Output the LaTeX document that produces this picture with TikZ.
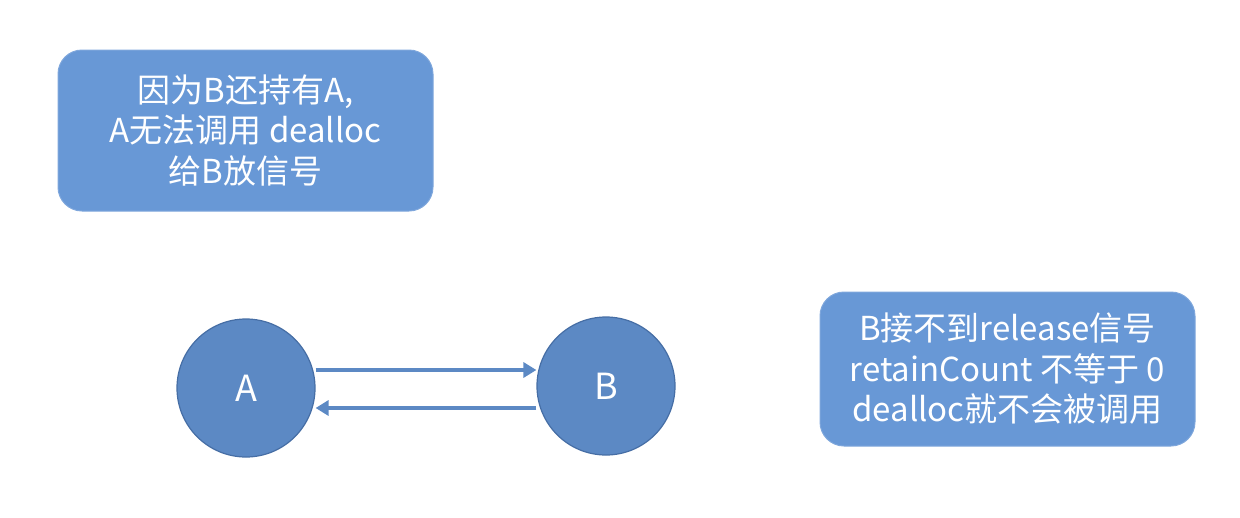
\documentclass[tikz,border=0pt]{standalone}
\usepackage{fontspec}
\setmainfont{Noto Sans CJK SC}
\usetikzlibrary{arrows.meta}
\definecolor{boxblue}{RGB}{104,152,214}
\definecolor{circblue}{RGB}{92,137,196}
\definecolor{circedge}{RGB}{70,110,165}
\definecolor{arrowblue}{RGB}{92,137,196}
\tikzset{
  infobox/.style={fill=boxblue, draw=boxblue!85!white, line width=1pt, rounded corners=24pt,
    text=white, align=center, inner sep=0pt, font=\fontsize{33}{40.5}\selectfont},
  objcirc/.style={circle, fill=circblue, draw=circedge, line width=1.2pt, minimum size=138pt,
    inner sep=0pt, text=white, font=\fontsize{36}{40}\selectfont},
  refarrow/.style={draw=arrowblue, line width=3.8pt, -{Triangle[length=13pt,width=15pt]}}
}
\begin{document}
\begin{tikzpicture}[x=1pt,y=-1pt]
\useasboundingbox (0,0) rectangle (1240,517);
\node[infobox, minimum width=375pt, minimum height=161pt] (top) at (245.5,130.5)
  {因为B还持有A,\\A无法调用 dealloc\\给B放信号};
\node[infobox, minimum width=375pt, minimum height=154pt] (right) at (1007.5,369)
  {B接不到release信号\\retainCount 不等于 0\\dealloc就不会被调用};
\node[objcirc] (A) at (246,388) {A};
\node[objcirc] (B) at (606,386) {B};
\coordinate (a1) at (316,370);
\coordinate (b1) at (538,370);
\coordinate (a2) at (316,408);
\coordinate (b2) at (538,408);
\path[refarrow] (A.east |- a1) -- (B.west |- b1);
\path[refarrow] (B.west |- b2) -- (A.east |- a2);
\end{tikzpicture}
\end{document}
